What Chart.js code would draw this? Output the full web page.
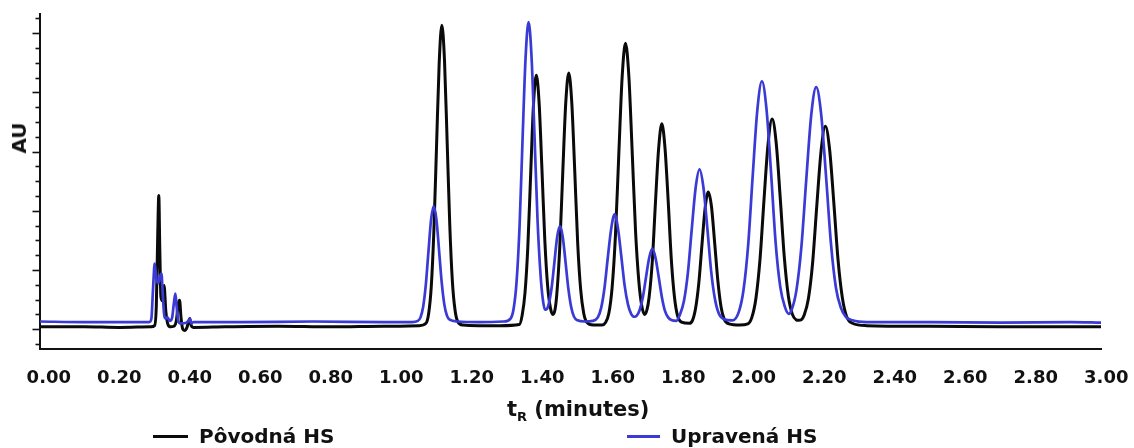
<!DOCTYPE html>
<html><head><meta charset="utf-8">
<script src="https://cdn.jsdelivr.net/npm/chart.js@4.4.0/dist/chart.umd.min.js"></script>
<style>
html,body{margin:0;padding:0;background:#fff;}
#wrap{position:relative;width:1134px;height:448px;overflow:hidden;font-family:"DejaVu Sans",sans-serif;font-weight:bold;color:#111;}
#c{position:absolute;left:0;top:0;}
.t{position:absolute;white-space:nowrap;line-height:1;}
#ytitle{left:19px;top:138px;font-size:20px;transform:translate(-50%,-50%) rotate(-90deg);}
#xtitle{left:507px;top:399px;font-size:21px;}
#xtitle .sub{font-size:13px;position:relative;top:5px;}
.legtxt{top:426px;font-size:20px;}
.legline{position:absolute;height:3px;top:435px;}
</style></head>
<body>
<div id="wrap">
<canvas id="c" width="1134" height="448"></canvas>
<div class="t" id="ytitle">AU</div>
<div class="t" id="xtitle">t<span class="sub">R</span> (minutes)</div>
<div class="legline" style="left:153px;width:35px;background:#0a0a0a"></div>
<div class="t legtxt" style="left:199px">Pôvodná HS</div>
<div class="legline" style="left:627px;width:33px;background:#3a3ad6"></div>
<div class="t legtxt" style="left:671px">Upravená HS</div>
</div>
<script>
// ---- data ----
const seriesNames = ['Pôvodná HS', 'Upravená HS'];
const xTickValues = [0,0.2,0.4,0.6,0.8,1.0,1.2,1.4,1.6,1.8,2.0,2.2,2.4,2.6,2.8,3.0];
const xTickLabels = ['0.00','0.20','0.40','0.60','0.80','1.00','1.20','1.40','1.60','1.80','2.00','2.20','2.40','2.60','2.80','3.00'];
const yTickValues = [-0.25,0,0.25,0.5,0.75,1,1.25,1.5,1.75,2,2.25,2.5,2.75,3,3.25,3.5,3.75,4,4.25,4.5,4.75,5,5.25];

const blackT = [-0.025,0.10,0.20,0.290,0.300,0.305,0.309,0.312,0.315,0.318,0.322,0.327,0.332,0.338,0.345,0.355,0.362,0.367,0.371,0.375,0.380,0.385,0.392,0.397,0.400,0.404,0.410,0.50,0.65,0.80,0.95,1.05,
1.070,1.0775,1.085,1.0925,1.100,1.1075,1.115,1.1225,1.130,1.1375,1.145,1.1525,1.160,1.175,1.22,1.28,
1.335,1.343,1.351,1.359,1.367,1.375,1.383,1.391,1.399,1.407,1.415,1.423,1.430,1.436,1.441,1.4495,1.458,1.4665,1.475,1.4835,1.492,1.5005,1.509,1.5175,1.526,1.545,1.569,
1.579,1.5885,1.598,1.6075,1.617,1.6265,1.636,1.6455,1.655,1.6645,1.674,1.682,1.690,1.697,1.703,1.712,1.721,1.730,1.739,1.748,1.757,1.766,1.775,1.784,1.795,1.817,
1.826,1.835,1.844,1.853,1.862,1.871,1.880,1.889,1.898,1.907,1.916,1.930,1.960,
1.983,1.9945,2.006,2.0175,2.029,2.0405,2.052,2.0635,2.075,2.0865,2.098,2.1095,2.120,2.127,2.135,
2.143,2.155,2.167,2.179,2.191,2.203,2.215,2.227,2.239,2.251,2.263,2.280,2.320,2.50,2.70,2.90,2.985];
const blackY = [0.04,0.04,0.03,0.04,0.06,0.40,1.60,2.26,1.30,0.55,0.48,0.74,0.30,0.08,0.04,0.05,0.15,0.42,0.49,0.20,0.00,-0.02,0.03,0.14,0.18,0.06,0.03,0.04,0.05,0.04,0.05,0.06,
0.10,0.26,0.72,1.68,3.10,4.50,5.135,4.55,3.18,1.76,0.80,0.32,0.13,0.07,0.06,0.06,
0.08,0.24,0.62,1.40,2.62,3.80,4.29,3.82,2.70,1.52,0.74,0.36,0.25,0.33,0.58,1.38,2.64,3.82,4.33,3.84,2.68,1.44,0.66,0.27,0.12,0.07,0.07,
0.11,0.26,0.70,1.58,2.95,4.26,4.83,4.28,3.00,1.66,0.80,0.40,0.25,0.33,0.54,1.14,2.14,3.05,3.47,3.07,2.18,1.18,0.54,0.22,0.12,0.10,
0.15,0.36,0.78,1.43,2.05,2.32,2.07,1.46,0.82,0.38,0.17,0.09,0.07,
0.09,0.20,0.52,1.17,2.19,3.13,3.55,3.15,2.22,1.22,0.56,0.25,0.16,0.15,0.16,
0.24,0.52,1.13,2.11,3.02,3.43,3.04,2.14,1.17,0.54,0.22,0.10,0.06,0.05,0.04,0.04,0.04];

const blueT = [-0.025,0.10,0.20,0.285,0.291,0.295,0.2985,0.300,0.303,0.307,0.311,0.315,0.3195,0.323,0.327,0.331,0.337,0.343,0.350,0.355,0.359,0.363,0.367,0.373,0.390,0.397,0.400,0.404,0.410,0.55,0.75,0.95,1.03,
1.047,1.0545,1.062,1.0695,1.077,1.0845,1.092,1.0995,1.107,1.1145,1.122,1.1295,1.137,1.160,1.22,1.29,
1.310,1.3185,1.327,1.3355,1.344,1.3525,1.361,1.3695,1.378,1.3865,1.395,1.402,1.408,1.413,
1.418,1.426,1.434,1.442,1.450,1.458,1.466,1.474,1.482,1.490,1.500,1.520,1.543,
1.5575,1.567,1.5765,1.586,1.5955,1.605,1.6145,1.624,1.6335,1.643,1.652,1.661,1.668,
1.676,1.685,1.694,1.703,1.712,1.721,1.730,1.739,1.748,1.757,1.768,1.780,
1.790,1.802,1.813,1.824,1.835,1.846,1.857,1.868,1.879,1.890,1.901,1.915,1.940,
1.958,1.971,1.984,1.997,2.010,2.023,2.036,2.049,2.062,2.075,2.088,2.099,
2.107,2.121,2.135,2.149,2.163,2.177,2.191,2.205,2.219,2.233,2.247,2.261,2.280,2.320,2.50,2.70,2.90,2.985];
const blueY = [0.13,0.12,0.12,0.12,0.18,0.60,1.00,1.11,0.98,0.80,0.78,0.88,0.94,0.62,0.26,0.18,0.20,0.14,0.20,0.45,0.60,0.36,0.15,0.10,0.11,0.15,0.18,0.10,0.12,0.12,0.13,0.12,0.12,
0.14,0.20,0.38,0.75,1.31,1.85,2.08,1.86,1.34,0.80,0.42,0.23,0.16,0.13,0.12,0.13,
0.18,0.34,0.80,1.74,3.21,4.58,5.19,4.60,3.25,1.84,0.92,0.48,0.33,0.34,
0.42,0.68,1.11,1.55,1.74,1.56,1.13,0.68,0.37,0.21,0.15,0.13,0.14,
0.20,0.36,0.70,1.22,1.70,1.94,1.71,1.24,0.74,0.42,0.26,0.21,0.23,
0.32,0.53,0.87,1.20,1.36,1.21,0.89,0.55,0.31,0.20,0.15,0.14,
0.24,0.48,0.95,1.69,2.39,2.70,2.40,1.72,0.98,0.50,0.26,0.17,0.15,
0.30,0.67,1.42,2.60,3.70,4.19,3.72,2.64,1.46,0.72,0.38,0.26,
0.32,0.66,1.39,2.54,3.62,4.09,3.64,2.58,1.44,0.70,0.36,0.21,0.15,0.12,0.12,0.11,0.12,0.11];

const toXY = (t, y) => t.map((v, i) => ({x: v, y: y[i]}));

const yTickMarks = {
  id: 'yTickMarks',
  afterDraw(chart) {
    const s = chart.scales.y, ctx = chart.ctx, left = chart.chartArea.left;
    ctx.save();
    ctx.strokeStyle = '#111';
    ctx.lineWidth = 1.6;
    s.ticks.forEach(t => {
      const q = Math.round(t.value * 4);
      const py = Math.round(s.getPixelForValue(t.value)) + 0.5;
      const len = (q % 4 === 0) ? 6.5 : 3.5;
      ctx.beginPath();
      ctx.moveTo(left - len - 1, py);
      ctx.lineTo(left, py);
      ctx.stroke();
    });
    ctx.restore();
  }
};

new Chart(document.getElementById('c'), {
  type: 'line',
  data: {
    datasets: [
      {label: seriesNames[1], data: toXY(blueT, blueY), borderColor: '#3a3ad6', borderWidth: 2.7, order: 0},
      {label: seriesNames[0], data: toXY(blackT, blackY), borderColor: '#0a0a0a', borderWidth: 3, order: 1}
    ]
  },
  options: {
    responsive: false,
    animation: false,
    events: [],
    parsing: false,
    elements: {
      point: {radius: 0},
      line: {cubicInterpolationMode: 'monotone', borderJoinStyle: 'round', borderCapStyle: 'round', fill: false}
    },
    layout: {padding: {left: 40, right: 33, top: 14, bottom: 58.5}},
    plugins: {legend: {display: false}, tooltip: {enabled: false}},
    scales: {
      x: {
        type: 'linear', min: -0.025, max: 2.985,
        afterBuildTicks: s => { s.ticks = xTickValues.map(v => ({value: v})); },
        ticks: {
          autoSkip: false, maxRotation: 0, padding: 0, color: '#111',
          font: {family: 'DejaVu Sans', size: 18, weight: 'bold'},
          callback: (v, i) => xTickLabels[i]
        },
        grid: {display: true, drawOnChartArea: false, drawTicks: true, tickLength: 19, tickColor: 'rgba(0,0,0,0)'},
        border: {display: true, color: '#111', width: 2}
      },
      y: {
        type: 'linear', min: -0.333, max: 5.326,
        afterBuildTicks: s => { s.ticks = yTickValues.map(v => ({value: v})); },
        ticks: {display: false},
        grid: {display: false, drawTicks: false},
        border: {display: true, color: '#111', width: 2}
      }
    }
  },
  plugins: [yTickMarks]
});
</script>
</body></html>
